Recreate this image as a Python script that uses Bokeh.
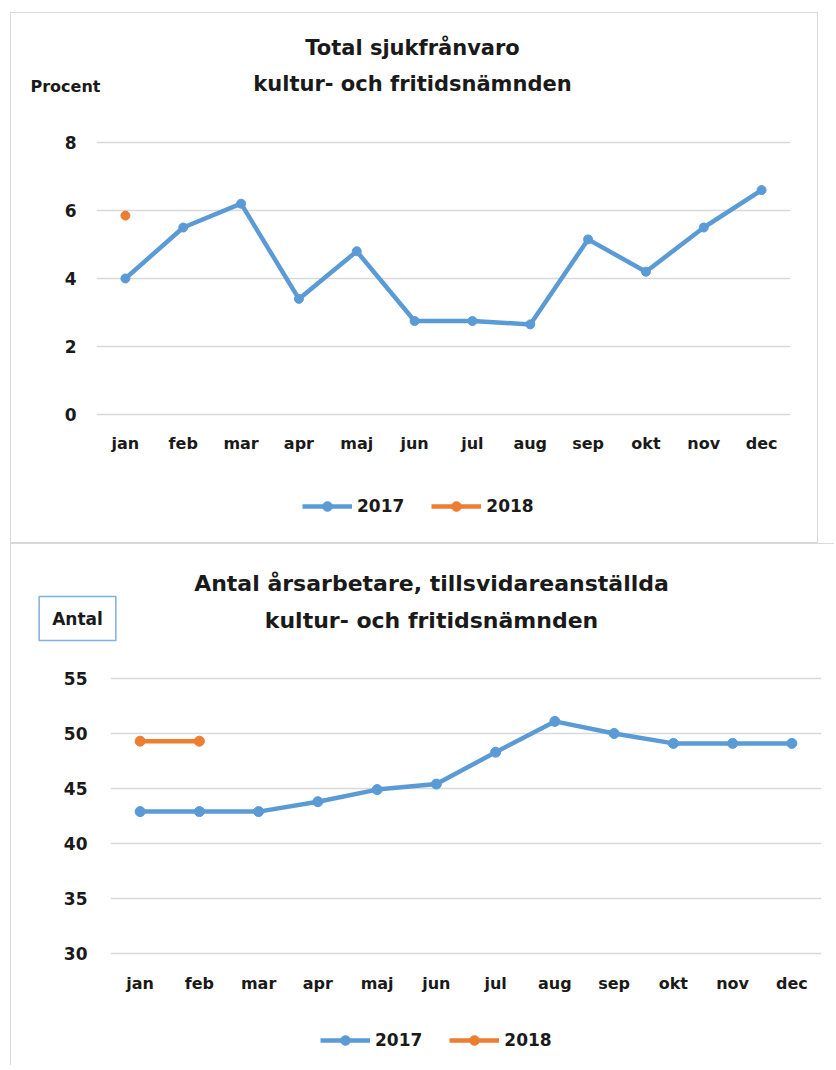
from bokeh.plotting import figure
from bokeh.models import FactorRange, Range1d, FixedTicker, Label, Legend, LegendItem
from bokeh.embed import file_html
from bokeh.resources import INLINE

months = ["jan", "feb", "mar", "apr", "maj", "jun", "jul", "aug", "sep", "okt", "nov", "dec"]
sick_2017 = [4.0, 5.5, 6.2, 3.4, 4.8, 2.75, 2.75, 2.65, 5.15, 4.2, 5.5, 6.6]
sick_2018 = [5.85]
staff_2017 = [42.9, 42.9, 42.9, 43.8, 44.9, 45.4, 48.3, 51.1, 50.0, 49.1, 49.1, 49.1]
staff_2018 = [49.3, 49.3]
sick_ticks = [0, 2, 4, 6, 8]
staff_ticks = [30, 35, 40, 45, 50, 55]
series = ["2017", "2018"]

BLUE = "#5B9BD5"
ORANGE = "#ED7D31"
FONT = "DejaVu Sans"
TXT = "#1a1a1a"
BORDER = "1px solid #d9d9d9"


def style(p, ticks, ystand, xstand):
    p.xgrid.visible = False
    p.ygrid.ticker = FixedTicker(ticks=ticks)
    p.ygrid.grid_line_color = "#d9d9d9"
    p.ygrid.grid_line_width = 1.3
    p.yaxis.ticker = FixedTicker(ticks=ticks)
    p.axis.axis_line_color = None
    p.axis.major_tick_line_color = None
    p.axis.minor_tick_line_color = None
    p.axis.major_label_text_font = FONT
    p.axis.major_label_text_font_style = "bold"
    p.axis.major_label_text_font_size = "16px"
    p.axis.major_label_text_color = TXT
    p.yaxis.major_label_text_font_size = "17px"
    p.yaxis.major_label_standoff = ystand
    p.xaxis.major_label_standoff = xstand
    p.outline_line_color = None
    p.background_fill_color = "white"
    p.border_fill_color = "white"


def text_label(p, txt, x, y, size, align="center", **kw):
    p.add_layout(Label(x=x, y=y, x_units="screen", y_units="screen", text=txt,
                       text_align=align, text_baseline="middle", text_font=FONT,
                       text_font_style="bold", text_font_size=size, text_color=TXT, **kw),
                 "above")


def legend_strip(width, height, x, y, msize, data, styles):
    # legend-only strip; the series are drawn off-view so only the legend swatches show
    q = figure(width=width, height=height, x_range=FactorRange(*months),
               y_range=Range1d(1000, 1001),
               output_backend="svg", toolbar_location=None, min_border=0, styles=styles)
    q.axis.visible = False
    q.grid.visible = False
    q.outline_line_color = None
    items = []
    for name, col, vals in zip(series, [BLUE, ORANGE], data):
        r1 = q.line(months[:len(vals)], vals, line_width=4.5, color=col)
        r2 = q.scatter(months[:len(vals)], vals, size=msize, color=col)
        items.append(LegendItem(label=name, renderers=[r1, r2]))
    leg = Legend(items=items, orientation="horizontal", location=(x, y),
                 glyph_width=50, glyph_height=24, label_standoff=5, spacing=27,
                 padding=0, margin=0, border_line_alpha=0, background_fill_alpha=0,
                 label_text_font=FONT, label_text_font_style="bold",
                 label_text_font_size="17px", label_text_color=TXT)
    q.add_layout(leg, "center")
    return q


# ---------- top chart ----------
p1 = figure(width=808, height=457, x_range=FactorRange(*months),
            y_range=Range1d(-2 / 34, 8 + 2 / 34),
            output_backend="svg", toolbar_location=None,
            min_border_left=85, min_border_right=29, min_border_top=127, min_border_bottom=54,
            styles={"margin-left": "10px", "margin-top": "12px", "border-top": BORDER,
                    "border-left": BORDER, "border-right": BORDER})
style(p1, sick_ticks, 14, 11)
p1.line(months, sick_2017, line_width=4.5, color=BLUE)
p1.scatter(months, sick_2017, size=9, color=BLUE)
p1.line(months[:1], sick_2018, line_width=4.5, color=ORANGE)
p1.scatter(months[:1], sick_2018, size=9, color=ORANGE)
text_label(p1, "kultur- och fritidsnämnden", 316, 57, "21px")
text_label(p1, "Total sjukfrånvaro", 316, 69, "21px")
text_label(p1, "Procent", -66, 6, "16px", align="left")

leg1 = legend_strip(808, 74, 291, 25, 9, [sick_2017, sick_2018],
                    {"margin-left": "10px", "border-bottom": BORDER,
                     "border-left": BORDER, "border-right": BORDER})

# ---------- bottom chart ----------
p2 = figure(width=824, height=464, x_range=FactorRange(*months),
            y_range=Range1d(30 - 2 / 11, 55 + 2 / 11),
            output_backend="svg", toolbar_location=None,
            min_border_left=99, min_border_right=14, min_border_top=132, min_border_bottom=53,
            styles={"margin-left": "10px", "border-top": BORDER, "border-left": BORDER})
style(p2, staff_ticks, 17, 12)
p2.line(months, staff_2017, line_width=4.5, color=BLUE)
p2.scatter(months, staff_2017, size=10, color=BLUE)
p2.line(months[:2], staff_2018, line_width=4.5, color=ORANGE)
p2.scatter(months[:2], staff_2018, size=10, color=ORANGE)
text_label(p2, "kultur- och fritidsnämnden", 321, 56, "22px")
text_label(p2, "Antal årsarbetare, tillsvidareanställda", 321, 68, "22px")
text_label(p2, "Antal", -33, 8, "17px",
           border_line_color="#7EB0E0", border_line_width=1.5,
           padding={"left": 13, "right": 13, "top": 12, "bottom": 12})

leg2 = legend_strip(824, 58, 309, 13, 10, [staff_2017, staff_2018],
                    {"margin-left": "10px", "border-left": BORDER})

open("out.html", "w").write(file_html([p1, leg1, p2, leg2], INLINE))
